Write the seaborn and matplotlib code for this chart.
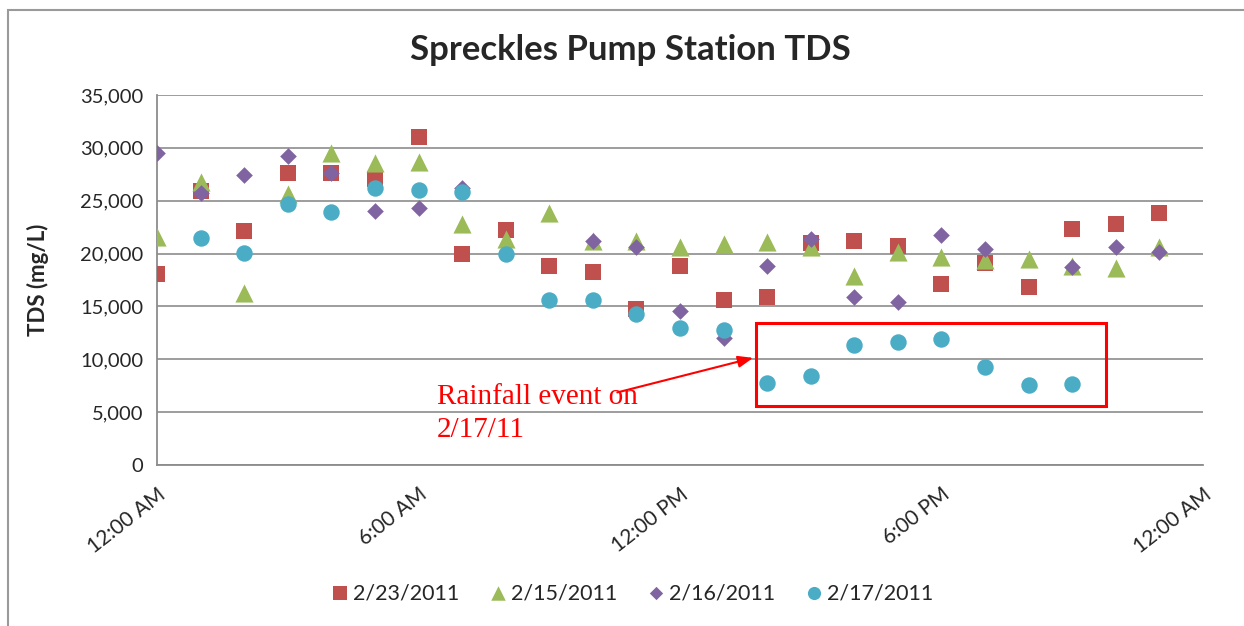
import numpy as np
import pandas as pd
import matplotlib
matplotlib.use("Agg")
import matplotlib.pyplot as plt
import seaborn as sns
from matplotlib.patches import Rectangle

# hourly samples, hour of day 0..23
hours = list(range(24))

tds_0223 = [18100, 25900, 22100, 27600, 27600, 27100, 31000, 19950, 22200, 18800,
            18250, 14800, 18800, 15600, 15850, 21000, 21150, 20700, 17100, 19150,
            16800, 22300, 22800, 23800]
tds_0215 = [21600, 26800, 16250, 25650, 29500, 28600, 28700, 22800, 21400, 23800,
            21150, 21200, 20650, 20900, 21050, 20650, 17900, 20150, 19700, 19350,
            19500, 18800, 18600, 20600]
tds_0216 = [29550, 25750, 27450, 29250, 27600, 24050, 24300, 26200, np.nan, np.nan,
            21150, 20650, 14600, 12000, 18850, 21400, 15850, 15400, 21750, 20400,
            np.nan, 18750, 20600, 20150]
tds_0217 = [np.nan, 21450, 20100, 24700, 23900, 26250, 26000, 25800, 19950, 15600,
            15650, 14250, 13000, 12750, 7750, 8400, 11350, 11600, 11900, 9250,
            7550, 7700, np.nan, np.nan]

dates = ["2/23/2011", "2/15/2011", "2/16/2011", "2/17/2011"]
series = [tds_0223, tds_0215, tds_0216, tds_0217]
colors = ["#C0504D", "#9BBB59", "#8064A2", "#4BACC6"]
markers = ["s", "^", "D", "o"]
sizes = [140, 170, 72, 140]

sns.set_style("white")
plt.rcParams["font.family"] = ["Lato", "DejaVu Sans"]

fig = plt.figure(figsize=(12.44, 6.26), dpi=100)
ax = fig.add_axes([157 / 1244, 1 - 465 / 626, (1203 - 157) / 1244, (465 - 95) / 626])

for d, vals, c, m, s in zip(dates, series, colors, markers, sizes):
    sub = pd.DataFrame({"hour": hours, "TDS": vals}).dropna()
    sns.scatterplot(data=sub, x="hour", y="TDS", color=c, marker=m, s=s,
                    linewidth=0, ax=ax, label=d, zorder=3)

ax.set_xlim(0, 24)
ax.set_ylim(0, 35000)
ax.set_yticks(np.arange(0, 35001, 5000))
ax.set_yticklabels([f"{v:,}" for v in range(0, 35001, 5000)], fontsize=14.5)
ax.set_xticks([0, 6, 12, 18, 24])
ax.set_xticklabels(["12:00 AM", "6:00 AM", "12:00 PM", "6:00 PM", "12:00 AM"],
                   fontsize=15, rotation=38, ha="right", va="top",
                   rotation_mode="anchor")
ax.tick_params(axis="both", direction="out", length=5, color="#8c8c8c", width=1.2)
ax.tick_params(axis="x", pad=9)
ax.tick_params(axis="y", pad=5)
ax.yaxis.grid(True, color="#8c8c8c", linewidth=1.2)
ax.xaxis.grid(False)
ax.set_axisbelow(True)
for side in ["top", "right"]:
    ax.spines[side].set_visible(False)
for side in ["left", "bottom"]:
    ax.spines[side].set_color("#8c8c8c")
    ax.spines[side].set_linewidth(1.3)

ax.set_xlabel("")
ax.set_ylabel("TDS (mg/L)", fontsize=16, fontweight="bold", labelpad=22)

fig.suptitle("Spreckles Pump Station TDS", x=630 / 1244, y=1 - 50 / 626, va="center",
             fontsize=25, fontweight="bold")

# rainfall box + note
ax.add_patch(Rectangle((13.74, 5580), 8.04, 7850, fill=False, edgecolor="red",
                       linewidth=2.2, zorder=4))
ax.annotate("", xy=(13.74, 10200), xytext=(10.5, 6800),
            arrowprops=dict(arrowstyle="-|>,head_length=0.9,head_width=0.35",
                            color="red", lw=1.5), zorder=4)
ax.text(6.42, 7650, "Rainfall event on\n2/17/11", color="red", fontsize=21,
        family="Liberation Serif", va="top", ha="left", linespacing=1.35, zorder=5)

handles, labels = ax.get_legend_handles_labels()
ax.get_legend().remove()
fig.legend(handles, labels, loc="center", bbox_to_anchor=(630 / 1244, 1 - 593 / 626),
           ncol=4, frameon=False, fontsize=15.5, handletextpad=0.0, columnspacing=1.2,
           markerscale=0.8, handlelength=1.2)

fig.add_artist(Rectangle((8 / 1244, -0.02), 1.1, 1 - 10 / 626 + 0.02, fill=False,
                         edgecolor="#9a9a9a", linewidth=1.5, transform=fig.transFigure))

fig.savefig("out.png", dpi=100)
